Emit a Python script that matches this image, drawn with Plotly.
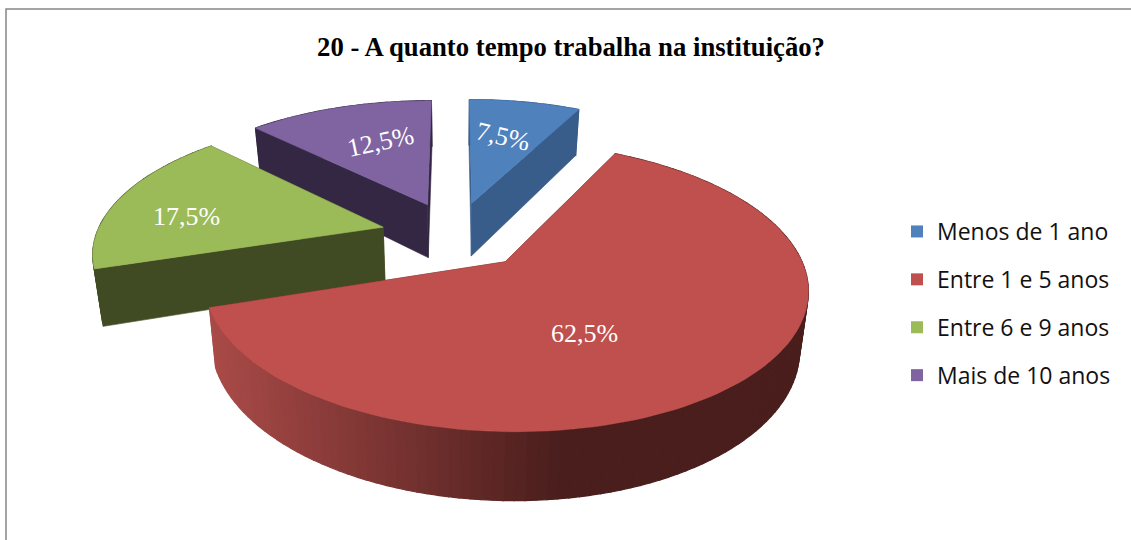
import math
import plotly.graph_objects as go

categories = ["Menos de 1 ano", "Entre 1 e 5 anos", "Entre 6 e 9 anos", "Mais de 10 anos"]
shares = [7.5, 62.5, 17.5, 12.5]
title_text = "20 - A quanto tempo trabalha na instituição?"

top_colors = ["#4f81bd", "#c0504d", "#9bbb59", "#8064a2"]
cut_colors = ["#385d8a", "#4a1e1c", "#404b23", "#342743"]
WALL_LIGHT, WALL_DARK = (170, 75, 72), (74, 30, 28)

# projection of the tilted pie, in page pixels
CX, CY, RX, RY, PERSP, PULL, DEPTH = 455, 235, 287, 131, 0.169, 0.26, 55
SHRINK = 0.975
label_style = [  # pixel nudge from slice mid-point and rotation
    dict(r=0.72, dx=-9, dy=9, angle=13),
    dict(r=0.5, dx=-27, dy=15, angle=0),
    dict(r=0.62, dx=-31, dy=8, angle=0),
    dict(r=0.68, dx=16, dy=6, angle=-12),
]


def project(u, v, low=False):
    f = 1 / (1 + PERSP * v)
    x = RX * u * f
    y = -RY * v * f
    if low:
        return CX + x * SHRINK, CY + y + DEPTH * f
    return CX + x, CY + y


def poly(pts, color, width=0.6):
    xs = [p[0] for p in pts] + [pts[0][0]]
    ys = [p[1] for p in pts] + [pts[0][1]]
    return go.Scatter(x=xs, y=ys, mode="lines", fill="toself", fillcolor=color,
                      line=dict(color=color, width=width), hoverinfo="skip", showlegend=False)


starts = []
acc = 0.0
for s in shares:
    starts.append(acc)
    acc += s

traces, annotations = [], []
geoms = []
for i, s in enumerate(shares):
    a0 = math.radians(starts[i] * 3.6)
    a1 = math.radians((starts[i] + s) * 3.6)
    mid = (a0 + a1) / 2
    ou, ov = PULL * math.sin(mid), PULL * math.cos(mid)
    n = max(8, int(s * 2))
    arc = [(ou + math.sin(a0 + (a1 - a0) * k / n), ov + math.cos(a0 + (a1 - a0) * k / n)) for k in range(n + 1)]
    geoms.append(dict(mid=mid, ou=ou, ov=ov, arc=arc))

for i in [3, 0, 2, 1]:
    g = geoms[i]
    arc, apex = g["arc"], (g["ou"], g["ov"])
    # outer wall, shaded by position
    outer = []
    for p, q in zip(arc[:-1], arc[1:]):
        xm = project((p[0] + q[0]) / 2, (p[1] + q[1]) / 2)[0]
        if i == 1:
            t = min(1, max(0, (xm - 208) / (560 - 208)))
            c = "rgb(%d,%d,%d)" % tuple(round(a + (b - a) * t) for a, b in zip(WALL_LIGHT, WALL_DARK))
        else:
            c = cut_colors[i]
        outer.append(poly([project(*p), project(*q), project(*q, True), project(*p, True)], c, 1.2))
    cuts = []
    for e in (arc[0], arc[-1]):
        cuts.append(poly([project(*apex), project(*e), project(*e, True), project(*apex, True)], cut_colors[i]))
    traces += (cuts + outer) if math.cos(g["mid"]) < 0 else (outer + cuts)
    traces.append(poly([project(*apex)] + [project(*p) for p in arc], top_colors[i]))

for i, s in enumerate(shares):
    g = geoms[i]
    st = label_style[i]
    x, y = project(g["ou"] + st["r"] * math.sin(g["mid"]), g["ov"] + st["r"] * math.cos(g["mid"]))
    annotations.append(dict(x=x + st["dx"], y=y + st["dy"], xref="x", yref="y", showarrow=False,
                            text=f"{s:.1f}%".replace(".", ","), textangle=st["angle"],
                            font=dict(family="Liberation Serif", size=26, color="white")))

for i, c in enumerate(categories):
    traces.append(go.Scatter(x=[None], y=[None], mode="markers", name=c, legendgroup=c,
                             marker=dict(symbol="square", size=15, color=top_colors[i]),
                             showlegend=True))

fig = go.Figure(traces)
fig.update_layout(
    width=1131, height=540, margin=dict(l=0, r=0, t=0, b=0),
    paper_bgcolor="white", plot_bgcolor="white",
    xaxis=dict(range=[0, 1131], visible=False, fixedrange=True),
    yaxis=dict(range=[540, 0], visible=False, fixedrange=True),
    title=dict(text=f"<b>{title_text}</b>", x=571 / 1131, xanchor="center", y=1 - 47 / 540, yanchor="middle",
               font=dict(family="Liberation Serif", size=26.7, color="black")),
    legend=dict(x=897 / 1131, xanchor="left", y=1 - 210 / 540, yanchor="top", tracegroupgap=15,
                font=dict(family="Open Sans", size=23, color="#111"), itemsizing="constant",
                bgcolor="rgba(0,0,0,0)", traceorder="grouped"),
    annotations=annotations,
    shapes=[dict(type="rect", xref="x", yref="y", x0=6, y0=9, x1=1136, y1=546,
                 line=dict(color="#868686", width=1.5), fillcolor="rgba(0,0,0,0)", layer="below")],
)
fig.write_html("out.html", post_script="document.body.style.margin='0';", config=dict(displayModeBar=False))
